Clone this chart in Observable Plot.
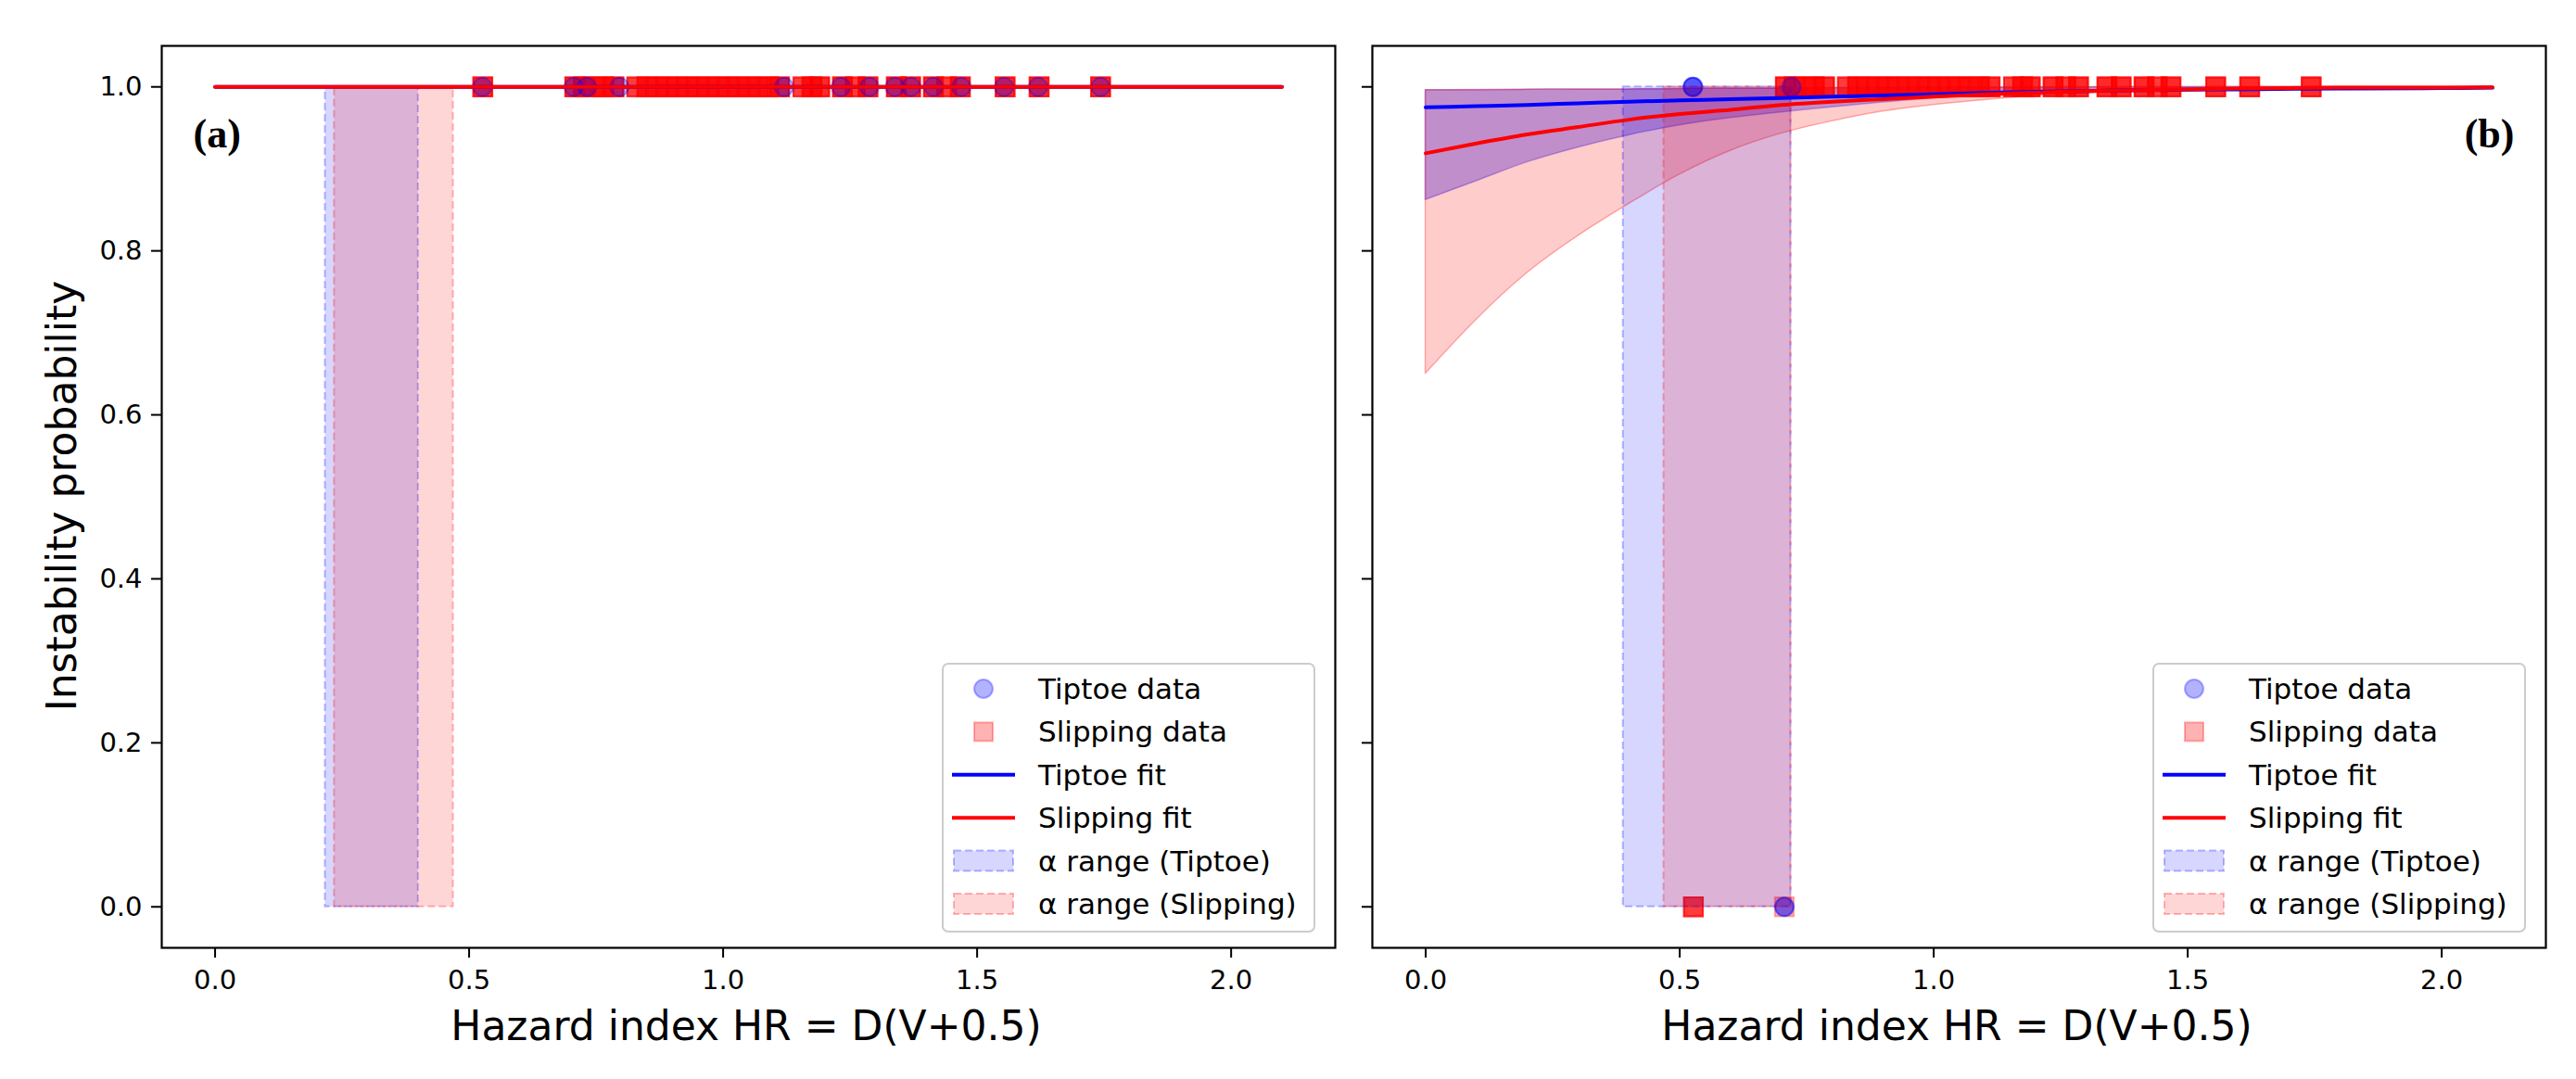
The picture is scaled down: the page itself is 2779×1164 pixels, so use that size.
<!DOCTYPE html>
<html>
<head>
<meta charset="utf-8">
<script src="https://cdn.jsdelivr.net/npm/d3@7"></script>
<script src="https://cdn.jsdelivr.net/npm/@observablehq/plot@0.6"></script>
<style>
  body { margin: 0; background: #fff; }
  #chart { position: relative; width: 2779px; height: 1164px; }
  #chart > svg { position: absolute; top: 0; }
</style>
</head>
<body>
<div id="chart"></div>
<script>
// ---- axes / labels ----
const xTicks = [0, 0.5, 1, 1.5, 2];
const yTicks = [0, 0.2, 0.4, 0.6, 0.8, 1];
const xDomain = [-0.105, 2.205];
const yDomain = [-0.05, 1.05];
const xLabel = "Hazard index HR = D(V+0.5)";
const yLabel = "Instability probability";
const legendNames = ["Tiptoe data", "Slipping data", "Tiptoe fit", "Slipping fit",
                     "α range (Tiptoe)", "α range (Slipping)"];

// ---- panel (a) observations: HR and number of overlapping trials ----
const slipA_hr = [0.527, 0.708, 0.725, 0.745, 0.765, 0.785, 0.83, 0.85, 0.87, 0.89, 0.91,
                  0.93, 0.95, 0.97, 0.99, 1.01, 1.03, 1.05, 1.07, 1.09, 1.111, 1.157, 1.175,
                  1.19, 1.235, 1.26, 1.285, 1.341, 1.369, 1.414, 1.44, 1.467, 1.555, 1.622, 1.743];
const slipA_n  = [5, 5, 4, 4, 4, 5, 4, 4, 4, 4, 4, 4, 4, 4, 4, 4, 4, 4, 4, 4, 5, 4, 4,
                  5, 5, 4, 5, 5, 5, 5, 4, 5, 5, 5, 5];
const tipA_hr  = [0.526, 0.706, 0.732, 0.796, 1.12, 1.232, 1.288, 1.338, 1.37, 1.414,
                  1.469, 1.553, 1.62, 1.743];
const tipA_n   = [1, 1, 1, 1, 1, 1, 1, 1, 1, 1, 1, 1, 1, 1];

// ---- panel (b) observations ----
const slipB1_hr = slipA_hr.slice(1);          // unstable (y = 1)
const slipB1_n  = slipA_n.slice(1);
const slipB0_hr = [0.527, 0.706];             // stable (y = 0)
const slipB0_n  = [4, 1];
const tipB1_hr  = [0.526, 0.72];
const tipB1_n   = [3, 1];
const tipB0_hr  = [0.706];
const tipB0_n   = [2];

// ---- alpha ranges [lo, hi] ----
const alphaTipA  = [0.217, 0.400];
const alphaSlipA = [0.235, 0.469];
const alphaTipB  = [0.389, 0.719];
const alphaSlipB = [0.469, 0.719];
const probSpan   = [0, 1];

// ---- fitted curves ----
const fitA_hr   = [0, 2.1];
const tipFitA   = [1, 1];
const slipFitA  = [1, 1];

const bandHR  = [0, 0.1, 0.2, 0.3, 0.4, 0.5, 0.6, 0.7, 0.8, 0.9, 1.0, 1.1, 1.2, 1.3, 1.4, 1.5, 1.6, 1.8, 2.0, 2.1];
const tipFitB = [0.975, 0.9765, 0.978, 0.980, 0.982, 0.9835, 0.985, 0.9865, 0.988, 0.9895, 0.991,
                 0.9925, 0.994, 0.995, 0.996, 0.9965, 0.997, 0.998, 0.9985, 0.999];
const slipFitB = [0.919, 0.931, 0.942, 0.951, 0.960, 0.967, 0.972, 0.978, 0.982, 0.985, 0.988,
                  0.991, 0.993, 0.995, 0.996, 0.997, 0.998, 0.999, 0.999, 0.9995];
const tipLo  = [0.862, 0.885, 0.908, 0.926, 0.941, 0.953, 0.962, 0.969, 0.975, 0.981, 0.986,
                0.990, 0.993, 0.995, 0.997, 0.998, 0.998, 0.999, 0.999, 1.0];
const tipHi  = [0.996, 0.996, 0.9965, 0.997, 0.997, 0.9975, 0.998, 0.998, 0.9985, 0.9985, 0.999,
                0.999, 0.9993, 0.9995, 0.9996, 0.9997, 0.9998, 0.9999, 1, 1];
const slipLo = [0.650, 0.716, 0.773, 0.818, 0.857, 0.893, 0.922, 0.943, 0.958, 0.970, 0.978,
                0.984, 0.989, 0.992, 0.994, 0.996, 0.997, 0.998, 0.999, 0.999];
const slipHi = [0.996, 0.9962, 0.9965, 0.997, 0.997, 0.9975, 0.998, 0.998, 0.9985, 0.999, 0.999,
                0.9993, 0.9995, 0.9996, 0.9997, 0.9998, 0.9999, 1, 1, 1];

// ---- helpers ----
const fmt = d3.format(".1f");
const W = 2779, H = 1164;

// one row per trial, so overlapping trials stack their alpha
const trials = (hr, n, y) => hr.flatMap((h, i) => d3.range(n[i]).map(() => ({hr: h, y})));
const rows = (hr, ys) => hr.map((h, i) => ({hr: h, p: ys[i]}));
const band = (lo, hi) => bandHR.map((h, i) => ({hr: h, lo: lo[i], hi: hi[i]}));

const squares = (data) => Plot.dot(data, {
  x: "hr", y: "y", symbol: "square", r: 11.5,
  fill: "red", fillOpacity: 0.3, stroke: "red", strokeOpacity: 0.3, strokeWidth: 2
});
const circles = (data) => Plot.dot(data, {
  x: "hr", y: "y", symbol: "circle", r: 10,
  fill: "blue", fillOpacity: 0.3, stroke: "blue", strokeOpacity: 0.3, strokeWidth: 2
});
const alphaRect = (span, color) => Plot.rect([span], {
  x1: d => d[0], x2: d => d[1], y1: probSpan[0], y2: probSpan[1],
  fill: color, fillOpacity: 0.16, stroke: color, strokeOpacity: 0.28,
  strokeWidth: 2, strokeDasharray: "8,4"
});
const fitLine = (data, color) => Plot.line(data, {
  x: "hr", y: "p", stroke: color, strokeWidth: 4, curve: "monotone-x"
});

function panel({width, marginLeft, marginRight, letter, right, yText, marks}) {
  return Plot.plot({
    width, height: H,
    marginLeft, marginRight, marginTop: 49, marginBottom: 142,
    x: {domain: xDomain, label: null},
    y: {domain: yDomain, label: null},
    style: {fontFamily: "DejaVu Sans", fontSize: "29px", color: "black", background: "transparent", overflow: "visible"},
    marks: [
      ...marks,
      Plot.axisX({ticks: xTicks, tickFormat: fmt, tickSize: 11, tickPadding: 13, strokeWidth: 2, fontSize: 29, label: null}),
      Plot.axisY({ticks: yTicks, tickFormat: yText ? fmt : () => "", tickSize: 11, tickPadding: 10, strokeWidth: 2, fontSize: 29, label: null}),
      Plot.frame({stroke: "black", strokeWidth: 2.2}),
      Plot.text([letter], {
        frameAnchor: right ? "top-right" : "top-left", dx: right ? -34 : 34, dy: 78,
        lineAnchor: "top", textAnchor: right ? "end" : "start",
        fontFamily: "Liberation Serif", fontWeight: "bold", fontSize: 44, fill: "black"
      })
    ]
  });
}

// ---- panel (a) ----
const plotA = panel({
  width: 1458, marginLeft: 174, marginRight: 18, letter: "(a)", right: false, yText: true,
  marks: [
    squares(trials(slipA_hr, slipA_n, 1)),
    circles(trials(tipA_hr, tipA_n, 1)),
    alphaRect(alphaTipA, "blue"),
    alphaRect(alphaSlipA, "red"),
    fitLine(rows(fitA_hr, tipFitA), "blue"),
    fitLine(rows(fitA_hr, slipFitA), "red")
  ]
});

// ---- panel (b) ----
const plotB = panel({
  width: 1321, marginLeft: 22, marginRight: 33, letter: "(b)", right: true, yText: false,
  marks: [
    Plot.areaY(band(tipLo, tipHi), {x: "hr", y1: "lo", y2: "hi", curve: "monotone-x",
      fill: "blue", fillOpacity: 0.3, stroke: "blue", strokeOpacity: 0.3, strokeWidth: 1.5}),
    Plot.areaY(band(slipLo, slipHi), {x: "hr", y1: "lo", y2: "hi", curve: "monotone-x",
      fill: "red", fillOpacity: 0.2, stroke: "red", strokeOpacity: 0.3, strokeWidth: 1.5}),
    squares([...trials(slipB1_hr, slipB1_n, 1), ...trials(slipB0_hr, slipB0_n, 0)]),
    circles([...trials(tipB1_hr, tipB1_n, 1), ...trials(tipB0_hr, tipB0_n, 0)]),
    alphaRect(alphaTipB, "blue"),
    alphaRect(alphaSlipB, "red"),
    fitLine(rows(bandHR, tipFitB), "blue"),
    fitLine(rows(bandHR, slipFitB), "red")
  ]
});

const chart = document.getElementById("chart");
plotA.style.left = "0px";
plotB.style.left = "1458px";
chart.append(plotA, plotB);

// ---- axis titles and legends ----
const over = d3.create("svg")
  .attr("width", W).attr("height", H)
  .style("left", "0px").style("pointer-events", "none")
  .attr("font-family", "DejaVu Sans").attr("fill", "black");

over.append("text")
  .attr("transform", "translate(82,535) rotate(-90)")
  .attr("text-anchor", "middle").attr("font-size", 44)
  .text(yLabel);

[805, 2111].forEach(cx => over.append("text")
  .attr("x", cx).attr("y", 1122)
  .attr("text-anchor", "middle").attr("font-size", 44)
  .text(xLabel));

function legend(left, top) {
  const g = over.append("g").attr("transform", `translate(${left},${top})`);
  g.append("rect").attr("width", 401).attr("height", 289).attr("rx", 6)
    .attr("fill", "white").attr("fill-opacity", 0.8)
    .attr("stroke", "#cccccc").attr("stroke-width", 2);
  legendNames.forEach((name, i) => {
    const color = i % 2 ? "red" : "blue";
    const row = g.append("g").attr("transform", `translate(0,${27 + i * 46.4})`);
    if (i === 0) {
      row.append("circle").attr("cx", 44).attr("r", 10)
        .attr("fill", color).attr("fill-opacity", 0.3)
        .attr("stroke", color).attr("stroke-opacity", 0.3).attr("stroke-width", 2);
    } else if (i === 1) {
      row.append("rect").attr("x", 34).attr("y", -10).attr("width", 20).attr("height", 20)
        .attr("fill", color).attr("fill-opacity", 0.3)
        .attr("stroke", color).attr("stroke-opacity", 0.3).attr("stroke-width", 2);
    } else if (i < 4) {
      row.append("line").attr("x1", 10).attr("x2", 78)
        .attr("stroke", color).attr("stroke-width", 4);
    } else {
      row.append("rect").attr("x", 12).attr("y", -11).attr("width", 64).attr("height", 22)
        .attr("fill", color).attr("fill-opacity", 0.16)
        .attr("stroke", color).attr("stroke-opacity", 0.28)
        .attr("stroke-width", 2).attr("stroke-dasharray", "8,4");
    }
    row.append("text").attr("x", 103).attr("y", 11).attr("font-size", 31).text(name);
  });
}
legend(1017, 716);
legend(2323, 716);

chart.append(over.node());
</script>
</body>
</html>
